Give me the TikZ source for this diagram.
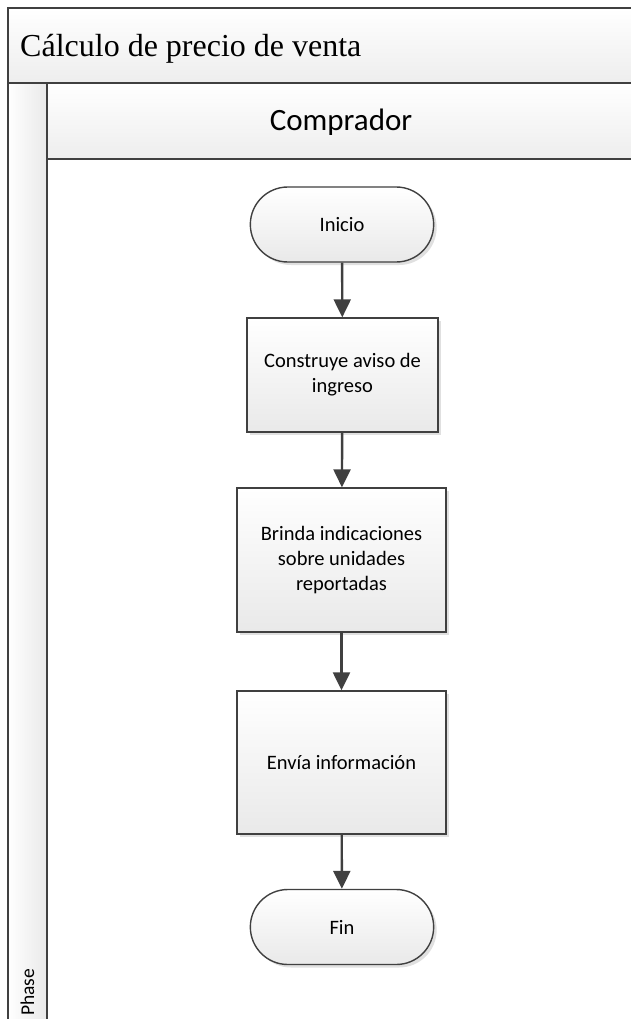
\documentclass[tikz,border=0pt]{standalone}
\usepackage{fontspec}
\setmainfont{Carlito}
\newfontfamily\titlefont{Liberation Serif}
\usetikzlibrary{arrows.meta,shapes.misc,shadows}

\definecolor{edge}{HTML}{404040}
\definecolor{shadeend}{HTML}{E9E9E9}

\tikzset{
  band/.style={draw=edge, line width=1.6pt, top color=white, bottom color=shadeend!80!white},
  softshadow/.style={drop shadow={shadow xshift=3pt, shadow yshift=-3pt, fill=black!35, opacity=0.35}},
  procbox/.style={draw=edge, line width=1.4pt, rectangle, top color=white, bottom color=shadeend,
    softshadow, align=center, font=\fontsize{20.5}{25}\selectfont, inner sep=4pt},
  terminal/.style={draw=edge, line width=1.4pt, rounded rectangle, top color=white, bottom color=shadeend,
    softshadow, font=\fontsize{20.5}{25}\selectfont, minimum width=190pt, minimum height=75pt},
  flow/.style={draw=edge, line width=2.4pt, -{Triangle[length=18pt,width=17pt]}},
}

\begin{document}
\begin{tikzpicture}[x=1pt, y=-1pt]
  \useasboundingbox (0,0) rectangle (630,1019);

  % pool title band
  \path[band] (8,8) rectangle (645,83);
  \node[anchor=base west, inner sep=0pt, font=\titlefont\fontsize{32}{38}\selectfont]
    (title) at (20,56.7) {Cálculo de precio de venta};

  % phase column on the left
  \path[draw=edge, line width=1.6pt, left color=white, right color=shadeend] (8,83) rectangle (47,1030);
  \node[anchor=base west, rotate=90, inner sep=0pt, font=\fontsize{19.5}{23}\selectfont]
    (phase) at (34,1016) {Phase};

  % swimlane header
  \path[band] (47,83) rectangle (645,159);
  \node[anchor=base, inner sep=0pt, font=\fontsize{31}{37}\selectfont]
    (lane) at (341,131) {Comprador};

  % flow steps
  \node[terminal] (inicio) at (342,224.5) {Inicio};
  \node[procbox, minimum width=191pt, minimum height=114pt] (aviso) at (342.5,375)
    {Construye aviso de\\ingreso};
  \node[procbox, minimum width=209pt, minimum height=144pt] (brinda) at (341.5,560)
    {Brinda indicaciones\\sobre unidades\\reportadas};
  \node[procbox, minimum width=209pt, minimum height=143pt] (envia) at (341.5,762.5)
    {Envía información};
  \node[terminal] (fin) at (342,927) {Fin};

  % connectors
  \draw[flow] (inicio) -- (aviso);
  \draw[flow] (aviso) -- (brinda);
  \draw[flow] (brinda) -- (envia);
  \draw[flow] (envia) -- (fin);
\end{tikzpicture}
\end{document}
